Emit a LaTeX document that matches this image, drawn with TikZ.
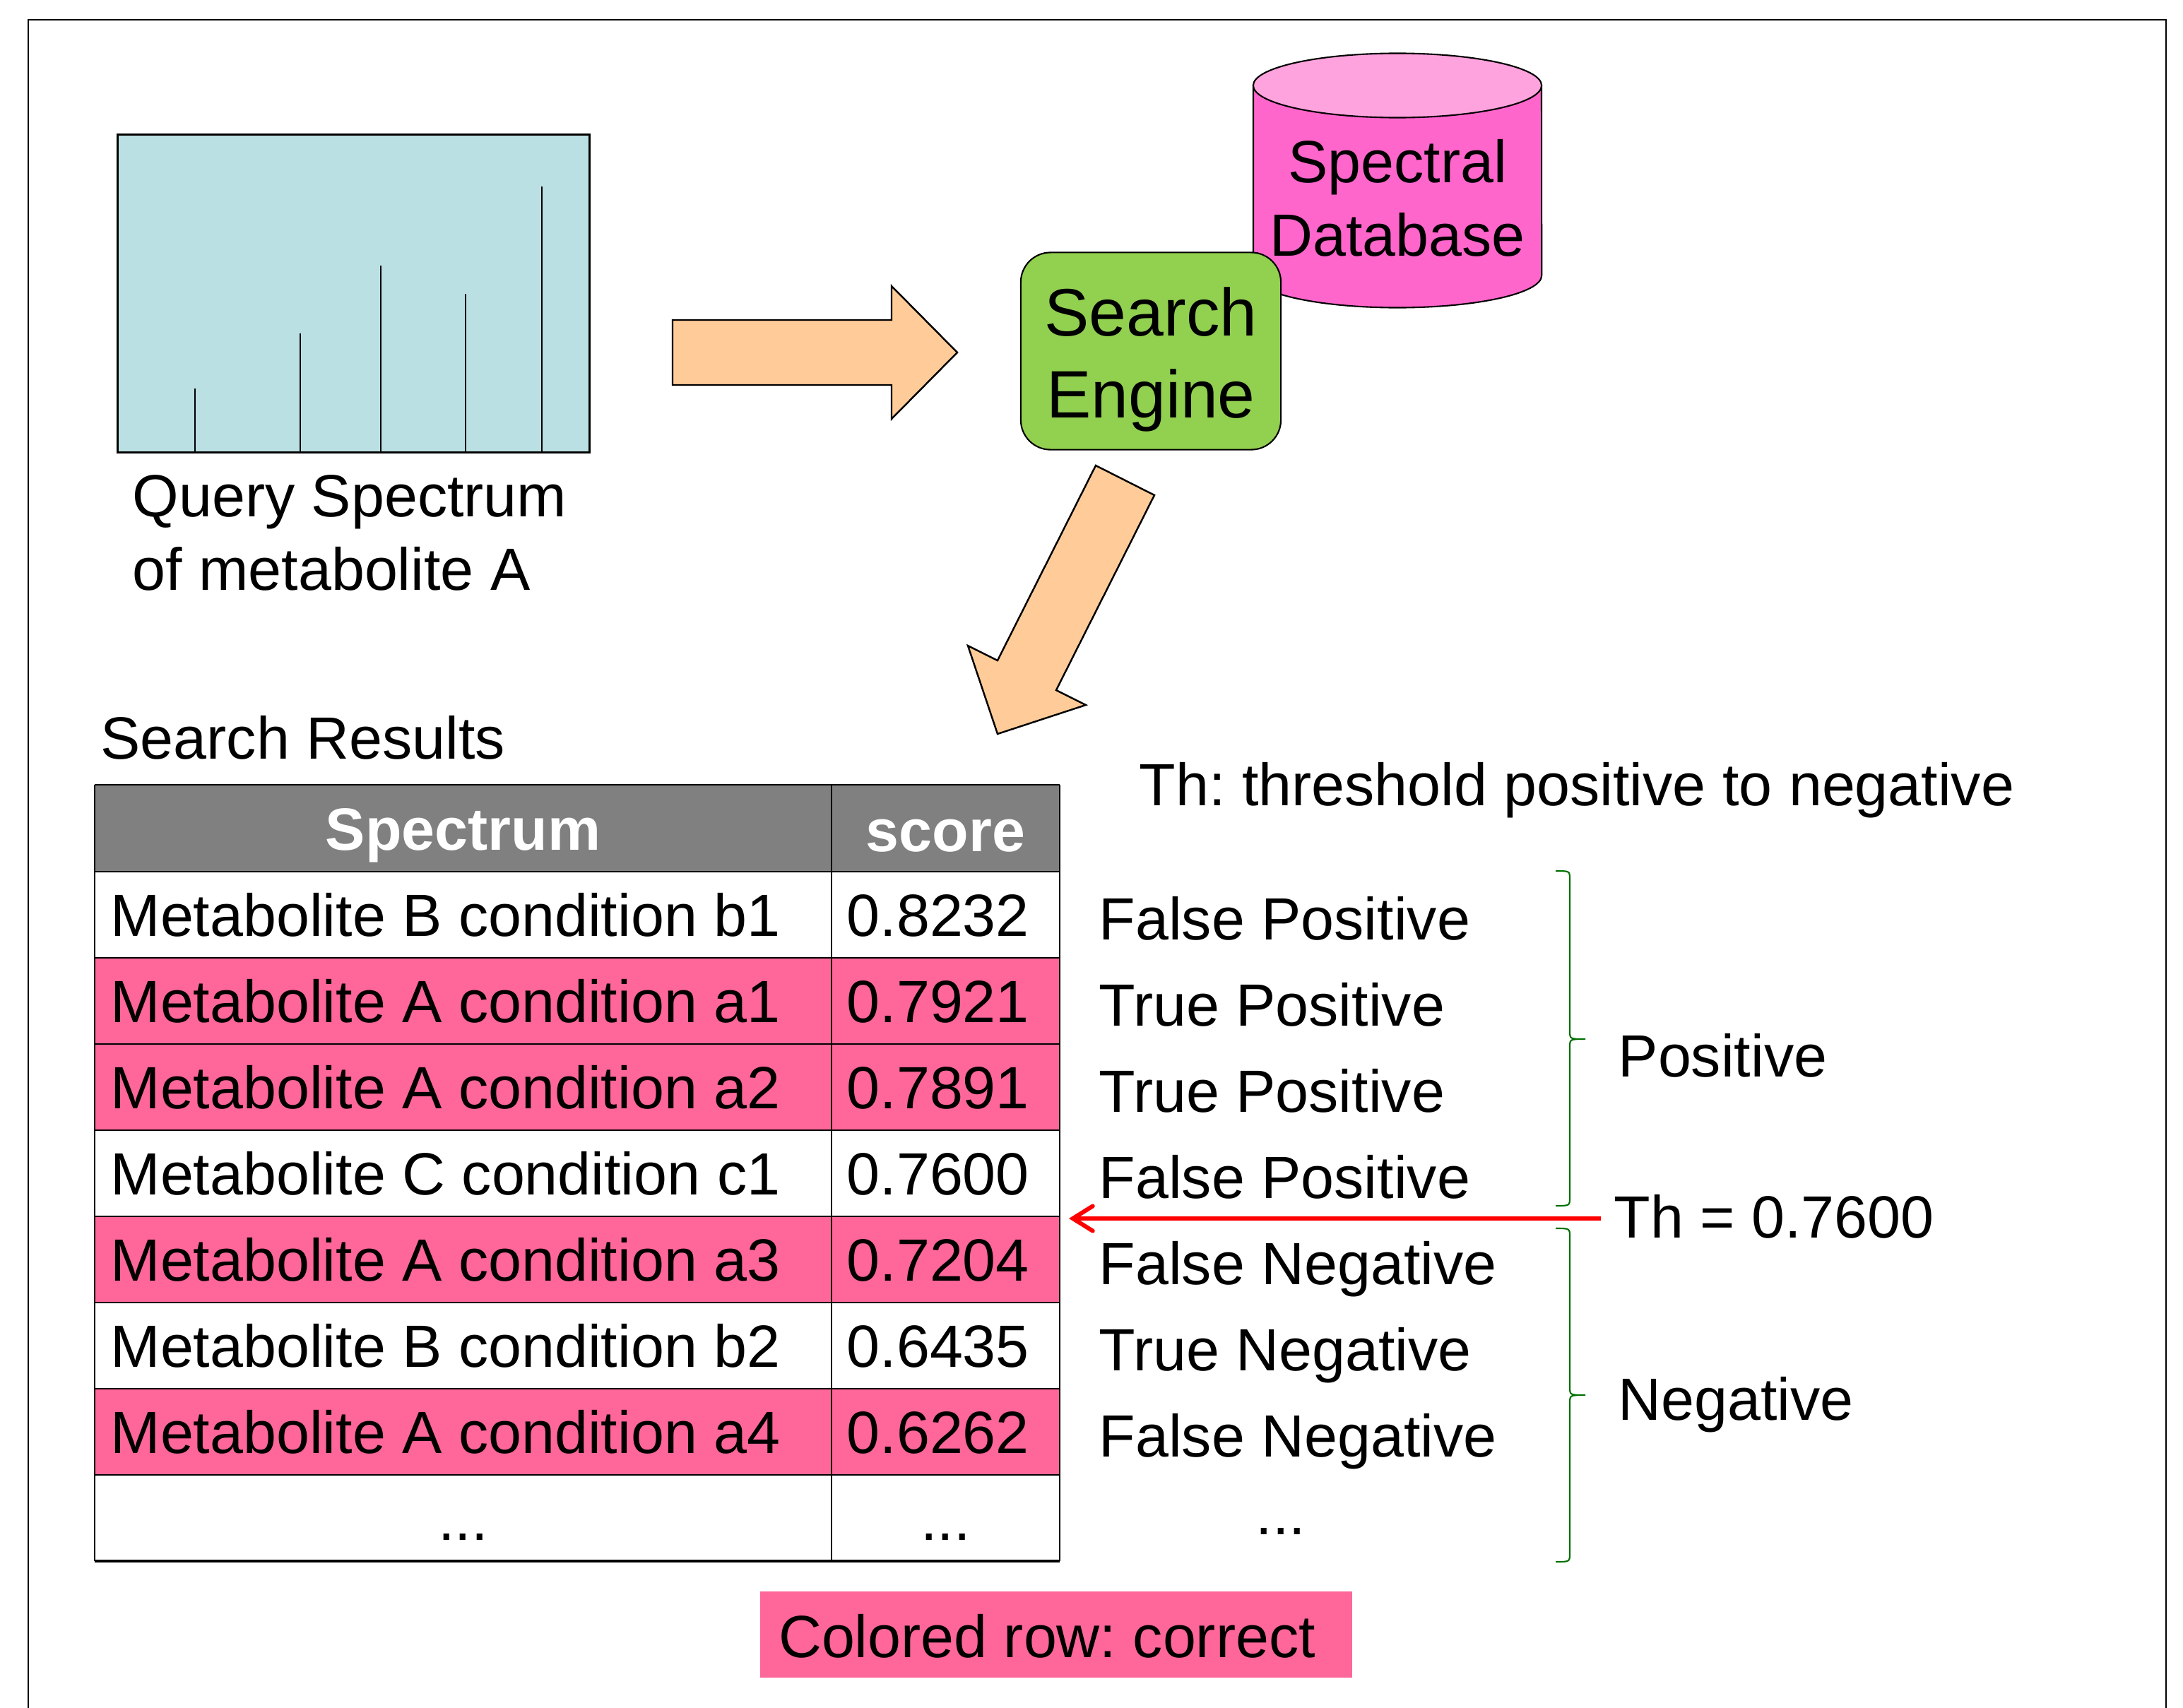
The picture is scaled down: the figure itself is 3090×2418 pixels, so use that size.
\documentclass[tikz,border=0pt]{standalone}
\usepackage{fontspec}
\setmainfont{Liberation Sans}
\usepackage{xcolor}
\usetikzlibrary{calc,shapes,arrows.meta}
\tikzstyle{every picture}=[x=0.01cm,y=-0.01cm]

\definecolor{specblue}{RGB}{187,224,227}
\definecolor{arrowtan}{RGB}{255,204,153}
\definecolor{enginegreen}{RGB}{146,208,80}
\definecolor{dbpink}{RGB}{255,102,204}
\definecolor{dbtop}{RGB}{255,163,222}
\definecolor{rowpink}{RGB}{255,102,153}
\definecolor{headgray}{RGB}{128,128,128}
\definecolor{bracegreen}{RGB}{0,112,0}

\newcommand{\txt}{\fontsize{24}{29.6}\selectfont\frenchspacing}
\tikzstyle{blockarrow}=[draw, fill=arrowtan, line width=0.7pt, line join=miter]
\tikzstyle{thline}=[-{Straight Barb[length=8pt,width=10pt,line cap=round]}, red, line width=1.7pt]

% right-hand brace: x, top, tip, bottom
\newcommand{\sidebrace}[4]{
\path[draw, bracegreen, line width=0.6pt] (#1-20,#2) .. controls (#1,#2) .. (#1,#2+12) -- (#1,#3-12)
  .. controls (#1,#3) .. (#1+22,#3) .. controls (#1,#3) .. (#1,#3+12) -- (#1,#4-12)
  .. controls (#1,#4) .. (#1-20,#4);
}

\begin{document}
\begin{tikzpicture}
{
\useasboundingbox (0,0) rectangle (3090,2418);
\path[draw, line width=0.6pt] (40,2418) -- (40,28) -- (3066,28) -- (3066,2418);

\begin{scope}[every node/.style={font=\txt, inner sep=0pt}]

% query spectrum
\node[draw, thick, fill=specblue, minimum width=6.67cm, minimum height=4.49cm] (spec) at (500.5,415.5) {};
\foreach \x/\t in {276/550, 425/472, 539/376, 659/416, 767/264}
    \path[draw, semithick] (\x,640) -- (\x,\t);
\node[anchor=west, align=left] (query) at (187,754) {Query Spectrum\\of metabolite A};

% database and engine
\path[draw, fill=dbpink, line width=0.6pt] (1774,121) -- (1774,390)
    arc[start angle=180, end angle=360, x radius=2.04cm, y radius=0.455cm] -- (2182,121) -- cycle;
\path[draw, fill=dbtop, line width=0.6pt] (1978,121) ellipse[x radius=2.04cm, y radius=0.455cm];
\node[align=center] (db) at (1978,280) {Spectral\\Database};
\node[draw, fill=enginegreen, line width=0.6pt, rounded corners=0.42cm, minimum width=3.68cm,
    minimum height=2.79cm, align=center, font=\fontsize{27}{33}\selectfont] (engine) at (1629,497) {};
\node[align=center, font=\fontsize{27}{33}\selectfont] (enginetxt) at (1629,509) {Search\\Engine};

\path[blockarrow] (952,453) -- (1262,453) -- (1262,405) -- (1355,499) -- (1262,593) -- (1262,545) -- (952,545) -- cycle;
\path[blockarrow] (1551,659) -- (1634,701) -- (1495,977) -- (1537,998) -- (1412,1039) -- (1370,914) -- (1412,935) -- cycle;

% results table
\node[anchor=west] (results) at (142,1044) {Search Results};
\path[fill=headgray] (134,1111) rectangle (1500,1234);
\node[text=white, font=\txt\bfseries] (hspec) at (655.5,1183) {Spectrum};
\node[text=white, font=\txt\bfseries] (hscore) at (1338.5,1183) {score};

\foreach \i/\met/\sc/\res/\col in {
    1/Metabolite B condition b1/0.8232/False Positive/white,
    2/Metabolite A condition a1/0.7921/True Positive/rowpink,
    3/Metabolite A condition a2/0.7891/True Positive/rowpink,
    4/Metabolite C condition c1/0.7600/False Positive/white,
    5/Metabolite A condition a3/0.7204/False Negative/rowpink,
    6/Metabolite B condition b2/0.6435/True Negative/white,
    7/Metabolite A condition a4/0.6262/False Negative/rowpink}
{
    \pgfmathsetmacro{\yt}{1234+122*(\i-1)}
    \path[fill=\col] (134,\yt) rectangle (1500,\yt+122);
    \node[anchor=base west] (m\i) at (156,\yt+91) {\met};
    \node[anchor=base west] (s\i) at (1198,\yt+91) {\sc};
    \node[anchor=base west] (r\i) at (1555,\yt+96) {\res};
}
\node[anchor=base] (m8) at (655.5,2180) {...};
\node[anchor=base] (s8) at (1338.5,2180) {...};
\node[anchor=base] (r8) at (1813,2172) {...};

\foreach \i in {0,...,8}
    \path[draw, line width=0.7pt] (134,1234+122*\i) -- (1500,1234+122*\i);
\path[draw, line width=0.7pt] (134,1111) -- (1500,1111);
\path[draw, line width=1.2pt] (134,2210) -- (1500,2210);
\foreach \x in {134,1177,1500}
    \path[draw, line width=0.7pt] (\x,1111) -- (\x,2210);

% threshold
\node[anchor=west] (thnote) at (1612,1119) {Th: threshold positive to negative};
\sidebrace{2222}{1233}{1471}{1707}
\sidebrace{2222}{1739}{1975}{2211}
\node[anchor=west] (pos) at (2290,1494) {Positive};
\node[anchor=west] (neg) at (2290,1989) {Negative};
\node[anchor=west] (th) at (2284,1722) {Th = 0.7600};
\coordinate (cut) at (1513,1725);
\draw[thline, shorten <=0.18cm] (th.west |- cut) -- (cut);

\node[fill=rowpink, minimum width=8.38cm, minimum height=1.22cm] (legend) at (1495,2314) {};
\node (legendtxt) at (1482,2316) {Colored row: correct};

\end{scope}
}
\end{tikzpicture}
\end{document}
